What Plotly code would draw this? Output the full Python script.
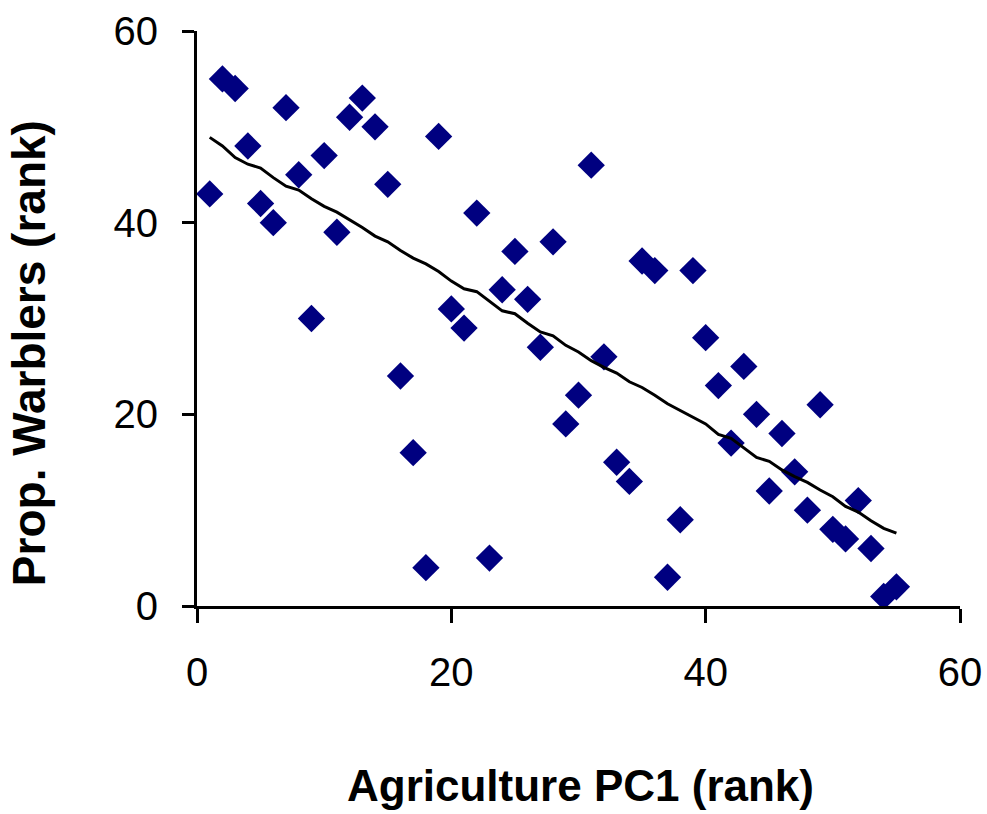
import plotly.graph_objects as go

# Data
agri_rank = list(range(1, 56))
warbler_rank = [43, 55, 54, 48, 42, 40, 52, 45, 30, 47,
                39, 51, 53, 50, 44, 24, 16, 4, 49, 31,
                29, 41, 5, 33, 37, 32, 27, 38, 19, 22,
                46, 26, 15, 13, 36, 35, 3, 9, 35, 28,
                23, 17, 25, 20, 12, 18, 14, 10, 21, 8,
                7, 11, 6, 1, 2]
trend = [48.9, 48.0, 46.8, 46.1, 45.7, 44.7, 43.8, 43.4, 42.5, 41.7,
         41.1, 40.3, 39.5, 38.6, 38.0, 37.1, 36.3, 35.7, 34.9, 33.9,
         33.1, 32.8, 31.8, 30.8, 30.5, 29.5, 28.6, 28.2, 27.2, 26.5,
         25.6, 24.9, 24.3, 23.4, 22.8, 22.0, 21.1, 20.4, 19.7, 19.0,
         17.9, 17.5, 16.5, 15.5, 15.1, 14.2, 13.5, 12.9, 12.1, 11.4,
         10.4, 9.8, 8.9, 8.1, 7.6]
tick_vals = [0, 20, 40, 60]
x_title = "Agriculture PC1 (rank)"
y_title = "Prop. Warblers (rank)"

FONT = "Liberation Sans, Arial, sans-serif"

fig = go.Figure()
fig.add_trace(go.Scatter(
    x=agri_rank, y=warbler_rank, mode="markers",
    marker=dict(symbol="diamond", size=21, color="#000080",
                line=dict(width=0)),
    showlegend=False, hoverinfo="x+y"))
fig.add_trace(go.Scatter(
    x=agri_rank, y=trend, mode="lines",
    line=dict(color="black", width=3),
    showlegend=False))

fig.update_layout(
    width=987, height=814,
    margin=dict(l=197, r=27, t=31, b=208, autoexpand=False),
    paper_bgcolor="white", plot_bgcolor="white",
    font=dict(family=FONT, color="black"),
    xaxis=dict(range=[0, 60], tickvals=tick_vals, showgrid=False, zeroline=False,
               showline=True, linecolor="black", linewidth=3, automargin=False,
               ticks="outside", ticklen=14, tickwidth=3, tickcolor="black",
               tickfont=dict(size=40, family=FONT), ticklabelstandoff=15),
    yaxis=dict(range=[0, 60], tickvals=tick_vals, showgrid=False, zeroline=False,
               showline=True, linecolor="black", linewidth=3, automargin=False,
               ticks="outside", ticklen=12, tickwidth=3, tickcolor="black",
               tickfont=dict(size=40, family=FONT), ticklabelstandoff=16),
    annotations=[
        dict(text="<b>" + x_title + "</b>", xref="paper", yref="paper",
             x=0.502, y=-0.313, xanchor="center", yanchor="middle",
             showarrow=False, font=dict(size=44, family=FONT, color="black")),
        dict(text="<b>" + y_title + "</b>", xref="paper", yref="paper",
             x=-0.220, y=0.44, xanchor="center", yanchor="middle",
             textangle=-90, showarrow=False,
             font=dict(size=46, family=FONT, color="black")),
    ],
)

fig.write_html("out.html",
               config={"displayModeBar": False},
               post_script="document.body.style.margin='0';document.body.style.overflow='hidden';")
